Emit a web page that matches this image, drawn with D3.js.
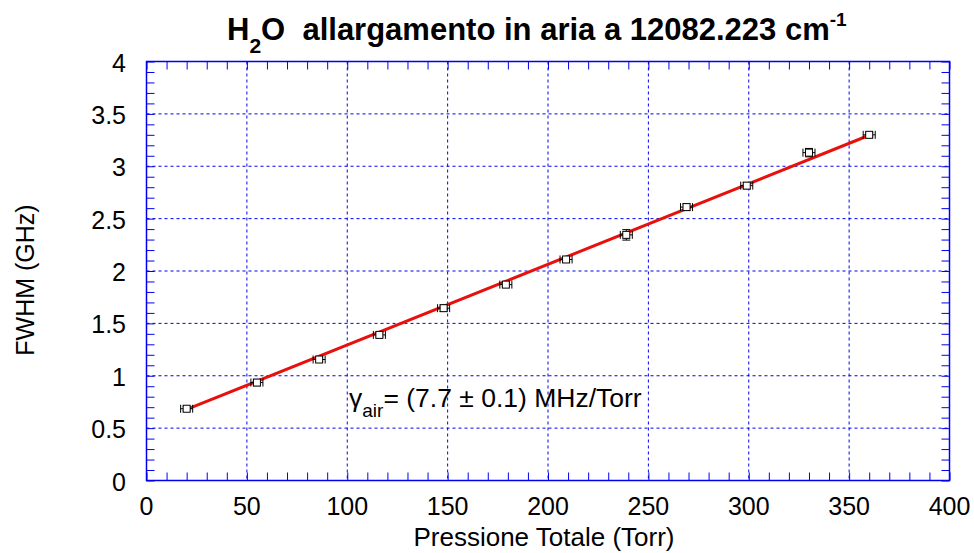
<!DOCTYPE html>
<html><head><meta charset="utf-8">
<script src="https://cdn.jsdelivr.net/npm/d3@7"></script>
<style>body{margin:0;background:#fff}svg{display:block;font-family:"Liberation Sans",Arial,sans-serif}text{white-space:pre}</style>
</head><body><svg id="c" width="974" height="553"></svg>
<script>
const pressure = [20, 55, 86, 116, 148, 179, 209, 239, 269, 299, 330, 360];
const fwhm     = [0.685, 0.935, 1.155, 1.39, 1.645, 1.87, 2.11, 2.345, 2.61, 2.815, 3.13, 3.30];
const xErr     = [3, 3, 3, 3, 3, 3, 3, 3, 3, 3, 3, 3];
const yErr     = [0.02, 0.03, 0.02, 0.02, 0.03, 0.02, 0.02, 0.05, 0.03, 0.03, 0.04, 0.02];
const fitSlope = 0.0077, fitIntercept = 0.524;
const fitRange = [20, 360];
const xTicks = [0, 50, 100, 150, 200, 250, 300, 350, 400];
const yTicks = [0, 0.5, 1, 1.5, 2, 2.5, 3, 3.5, 4];

const svg = d3.select("#c");
const L = 146.5, R = 949.5, T = 61.5, B = 480.5;
const x = d3.scaleLinear().domain([0, 400]).range([L, R]);
const y = d3.scaleLinear().domain([0, 4]).range([B, T]);
const blue = "#0000ee";

// grid
const g = svg.append("g");
g.selectAll(".gx").data(xTicks.slice(1, -1)).join("line")
  .attr("x1", d => x(d)).attr("x2", d => x(d)).attr("y1", T).attr("y2", B)
  .attr("stroke", blue).attr("stroke-width", 1).attr("stroke-dasharray", "3,3");
g.selectAll(".gy").data(yTicks.slice(1, -1)).join("line")
  .attr("y1", d => y(d)).attr("y2", d => y(d)).attr("x1", L).attr("x2", R)
  .attr("stroke", blue).attr("stroke-width", 1).attr("stroke-dasharray", "3,3");

// axes with inward ticks on all sides
const xMinor = d3.range(0, 401, 10);
const yMinor = d3.range(0, 41, 1).map(d => d / 10);
svg.append("g").attr("transform", `translate(0,${B})`)
  .call(d3.axisBottom(x).tickValues(xMinor).tickSize(-8).tickFormat(""))
  .call(a => a.selectAll("line,path").attr("stroke", blue));
svg.append("g").attr("transform", `translate(0,${T})`)
  .call(d3.axisTop(x).tickValues(xMinor).tickSize(-8).tickFormat(""))
  .call(a => a.selectAll("line,path").attr("stroke", blue));
svg.append("g").attr("transform", `translate(${L},0)`)
  .call(d3.axisLeft(y).tickValues(yMinor).tickSize(-8).tickFormat(""))
  .call(a => a.selectAll("line,path").attr("stroke", blue));
svg.append("g").attr("transform", `translate(${R},0)`)
  .call(d3.axisRight(y).tickValues(yMinor).tickSize(-8).tickFormat(""))
  .call(a => a.selectAll("line,path").attr("stroke", blue));
svg.selectAll(".domain").remove();
svg.append("rect").attr("x", L).attr("y", T).attr("width", R - L).attr("height", B - T)
  .attr("fill", "none").attr("stroke", blue).attr("stroke-width", 1.5);

// tick labels
svg.append("g").selectAll("text").data(xTicks).join("text")
  .attr("x", d => x(d)).attr("y", 515).attr("text-anchor", "middle")
  .attr("font-size", 25).text(d => d);
svg.append("g").selectAll("text").data(yTicks).join("text")
  .attr("x", 126).attr("y", d => y(d) + 10).attr("text-anchor", "end")
  .attr("font-size", 25).text(d => d);

// axis titles
svg.append("text").attr("x", 544).attr("y", 546).attr("text-anchor", "middle")
  .attr("font-size", 26).text("Pressione Totale (Torr)");
svg.append("text").attr("transform", `translate(34,280) rotate(-90)`)
  .attr("text-anchor", "middle").attr("font-size", 25).text("FWHM (GHz)");

// title
const t = svg.append("text").attr("x", 227).attr("y", 40)
  .attr("font-size", 31).attr("font-weight", "bold");
t.append("tspan").text("H");
t.append("tspan").attr("font-size", 21).attr("dy", 13).text("2");
t.append("tspan").attr("dy", -13).text("O  allargamento in aria a 12082.223 cm");
t.append("tspan").attr("font-size", 19).attr("dy", -14).text("-1");

// fit line
svg.append("line")
  .attr("x1", x(fitRange[0])).attr("y1", y(fitIntercept + fitSlope * fitRange[0]))
  .attr("x2", x(fitRange[1])).attr("y2", y(fitIntercept + fitSlope * fitRange[1]))
  .attr("stroke", "#e8100c").attr("stroke-width", 3);

// data with error bars
const pts = pressure.map((p, i) => ({x: p, y: fwhm[i], ex: xErr[i], ey: yErr[i]}));
const eb = svg.append("g").attr("stroke", "#000").attr("stroke-width", 1).attr("fill", "none");
pts.forEach(d => {
  const cx = x(d.x), cy = y(d.y);
  const x0 = x(d.x - d.ex), x1 = x(d.x + d.ex), y0 = y(d.y - d.ey), y1 = y(d.y + d.ey);
  eb.append("line").attr("x1", x0).attr("x2", x1).attr("y1", cy).attr("y2", cy);
  eb.append("line").attr("x1", x0).attr("x2", x0).attr("y1", cy - 4).attr("y2", cy + 4);
  eb.append("line").attr("x1", x1).attr("x2", x1).attr("y1", cy - 4).attr("y2", cy + 4);
  eb.append("line").attr("x1", cx).attr("x2", cx).attr("y1", y0).attr("y2", y1);
  eb.append("line").attr("x1", cx - 4).attr("x2", cx + 4).attr("y1", y0).attr("y2", y0);
  eb.append("line").attr("x1", cx - 4).attr("x2", cx + 4).attr("y1", y1).attr("y2", y1);
  eb.append("rect").attr("x", cx - 3.5).attr("y", cy - 3.5).attr("width", 7).attr("height", 7)
    .attr("fill", "#fff");
});

// annotation
const an = svg.append("text").attr("x", 349).attr("y", 407).attr("font-size", 26.5);
an.append("tspan").text("γ");
an.append("tspan").attr("font-size", 19).attr("dy", 10).text("air");
an.append("tspan").attr("dy", -10).text("= (7.7 ± 0.1) MHz/Torr");
</script></body></html>
